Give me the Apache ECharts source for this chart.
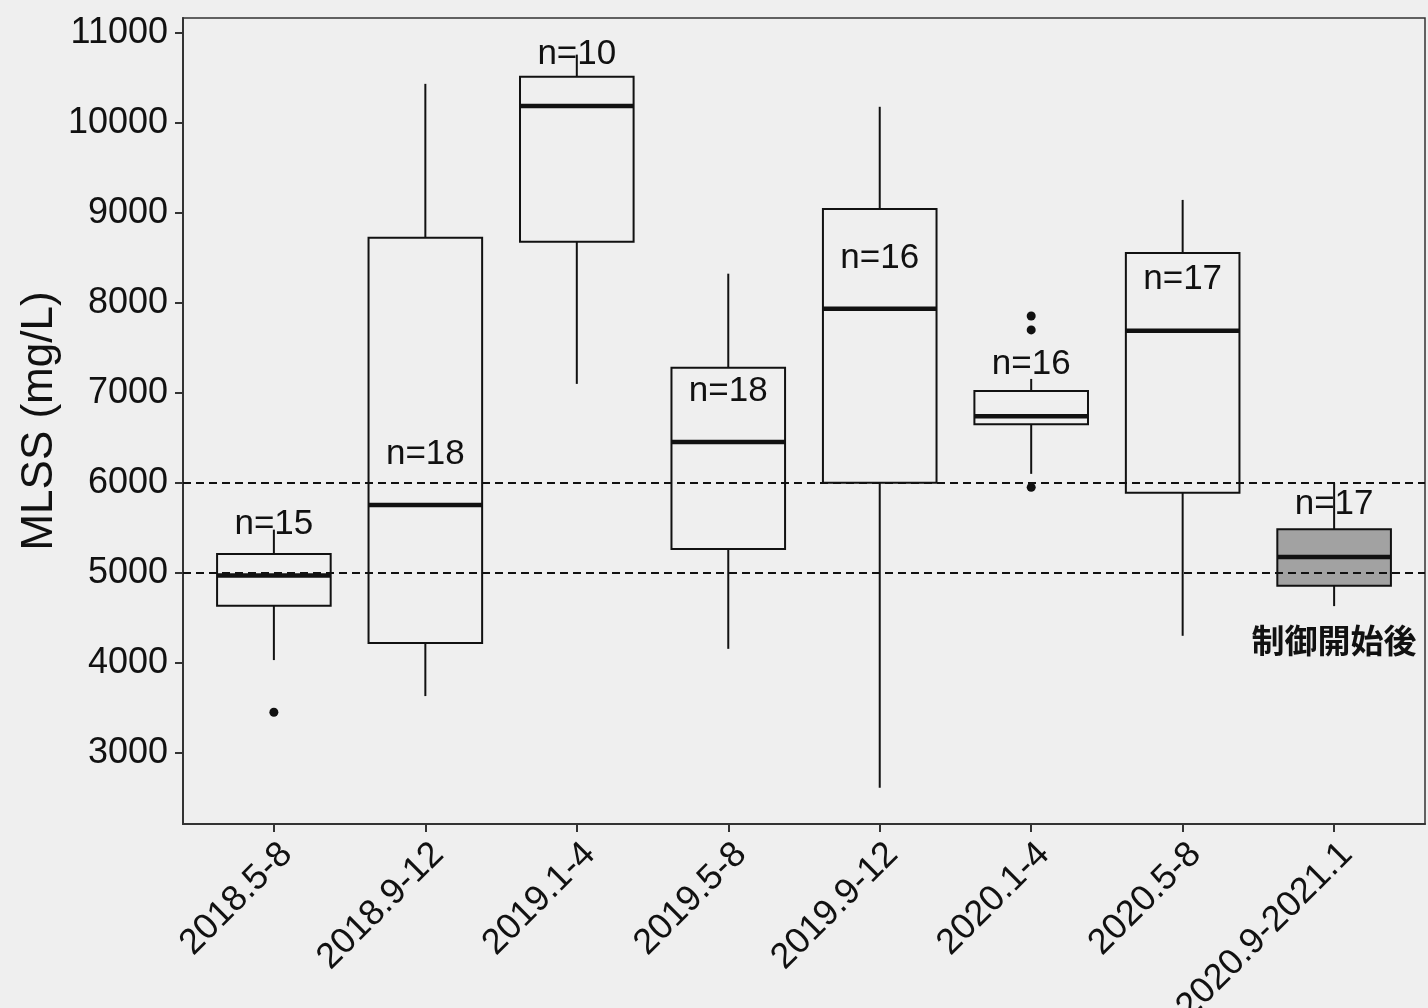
<!DOCTYPE html>
<html><head><meta charset="utf-8">
<script src="https://cdn.jsdelivr.net/npm/echarts@6/dist/echarts.min.js"></script>
<style>html,body{margin:0;padding:0;background:#efefef}#c{width:1428px;height:1008px}</style>
</head><body><div id="c"></div>
<script>
const categories = ['2018.5-8','2018.9-12','2019.1-4','2019.5-8','2019.9-12','2020.1-4','2020.5-8','2020.9-2021.1'];
// [lower whisker, Q1, median, Q3, upper whisker]
const boxStats = [
  [4030, 4635, 4970, 5210, 5480],
  [3630, 4220, 5755, 8725, 10435],
  [7100, 8680, 10190, 10515, 10760],
  [4155, 5265, 6455, 7280, 8325],
  [2610, 6000, 7935, 9045, 10180],
  [6100, 6650, 6740, 7020, 7155],
  [4300, 5890, 7690, 8555, 9145],
  [4630, 4855, 5175, 5485, 6000]
];
const outliers = [[0, 3450], [5, 7855], [5, 7700], [5, 5950]];
const nLabels = ['n=15','n=18','n=10','n=18','n=16','n=16','n=17','n=17'];
const nLabelY = [5540, 6320, 10760, 7020, 8500, 7320, 8260, 5760];
const refLines = [5000, 6000];
const yTicks = [3000,4000,5000,6000,7000,8000,9000,10000,11000];
const highlightIndex = 7;
const afterNote = '制御開始後';
const afterNoteY = 4250;

const chart = echarts.init(document.getElementById('c'), null, {renderer:'canvas'});
const font = 'Liberation Sans';
const boxData = boxStats.map((s, i) => [i, ...s]);

const labelData = nLabels.map((t, i) => ({value: [i, nLabelY[i]], name: t}))
  .concat([{value: [highlightIndex, afterNoteY], name: afterNote,
    label: {fontFamily: 'Noto Sans CJK JP', fontWeight: 'bold', fontSize: 33}}]);

chart.setOption({
  backgroundColor: '#efefef',
  animation: false,
  grid: {left: 183, right: 3, top: 18, bottom: 184, outerBoundsMode: 'none', containLabel: false,
    show: true, borderColor: '#333', borderWidth: 1.5, backgroundColor: 'transparent'},
  xAxis: {
    type: 'value', min: -0.6, max: 7.6,
    splitLine: {show: false},
    axisLine: {show: true, onZero: false, lineStyle: {color: '#333', width: 2}},
    axisTick: {show: true, length: 8, lineStyle: {color: '#333', width: 2}, customValues: categories.map((c, i) => i)},
    axisLabel: {
      customValues: categories.map((c, i) => i),
      formatter: v => categories[Math.round(v)],
      rotate: 45, fontSize: 36, color: '#111', fontFamily: font, margin: 12,
      verticalAlign: 'top', hideOverlap: false
    }
  },
  yAxis: {
    type: 'value', min: 2208, max: 11167,
    name: 'MLSS (mg/L)', nameLocation: 'middle', nameGap: 121, nameMoveOverlap: false,
    nameTextStyle: {fontSize: 44, color: '#111', fontFamily: font},
    splitLine: {show: false},
    axisLine: {show: true, onZero: false, lineStyle: {color: '#333', width: 2}},
    axisTick: {show: true, length: 8, lineStyle: {color: '#333', width: 2}, customValues: yTicks},
    axisLabel: {customValues: yTicks, fontSize: 36, color: '#111', fontFamily: font, margin: 15,
      formatter: v => String(v)}
  },
  series: [
    {
      type: 'scatter', z: 1, symbolSize: 0,
      itemStyle: {opacity: 1},
      data: labelData,
      label: {show: true, position: 'inside', fontSize: 35, color: '#111', fontFamily: font,
        formatter: p => p.name},
      labelLayout: {hideOverlap: false},
      silent: true
    },
    {
      type: 'custom', z: 3,
      data: boxData,
      renderItem: (params, api) => {
        const x = api.value(0);
        const hw = api.size([1, 0])[0] * 0.375;
        const p = k => api.coord([x, api.value(k)]);
        const pMin = p(1), pQ1 = p(2), pMed = p(3), pQ3 = p(4), pMax = p(5);
        const cx = pMed[0];
        const stroke = {stroke: '#111', lineWidth: 2};
        const fill = params.dataIndex === highlightIndex ? '#a2a2a2' : 'transparent';
        return {type: 'group', children: [
          {type: 'line', shape: {x1: cx, y1: pMax[1], x2: cx, y2: pQ3[1]}, style: stroke},
          {type: 'line', shape: {x1: cx, y1: pQ1[1], x2: cx, y2: pMin[1]}, style: stroke},
          {type: 'rect', shape: {x: cx - hw, y: pQ3[1], width: 2 * hw, height: pQ1[1] - pQ3[1]}, style: {fill: fill, stroke: '#111', lineWidth: 2}},
          {type: 'line', shape: {x1: cx - hw, y1: pMed[1], x2: cx + hw, y2: pMed[1]}, style: {stroke: '#111', lineWidth: 4.5}}
        ]};
      }
    },
    {
      type: 'scatter', z: 4, symbolSize: 9,
      itemStyle: {color: '#111', opacity: 1},
      data: outliers
    },
    {
      type: 'line', z: 5, data: [], symbol: 'none',
      markLine: {
        silent: true, symbol: 'none', label: {show: false},
        lineStyle: {color: '#111', type: [8, 5], width: 2},
        data: refLines.map(v => ({yAxis: v}))
      }
    }
  ]
});
</script></body></html>
